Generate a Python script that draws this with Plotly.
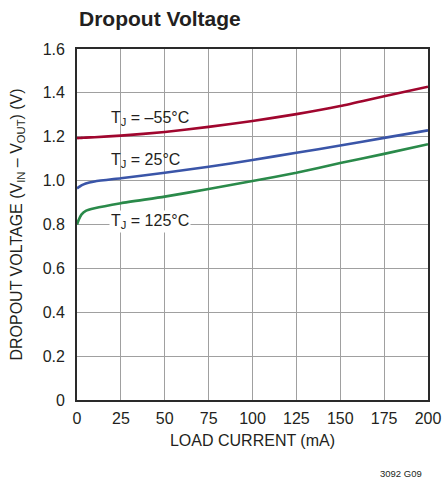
import plotly.graph_objects as go

load_ma = [0, 1, 2.5, 5, 10, 25, 50, 75, 100, 125, 150, 175, 200]
v_m55 = [1.194, 1.194, 1.195, 1.196, 1.198, 1.205, 1.222, 1.245, 1.272, 1.303, 1.340, 1.385, 1.428]
v_25 = [0.965, 0.970, 0.978, 0.987, 0.996, 1.011, 1.036, 1.063, 1.094, 1.127, 1.160, 1.195, 1.229]
v_125 = [0.800, 0.822, 0.845, 0.862, 0.874, 0.897, 0.927, 0.962, 0.998, 1.036, 1.080, 1.122, 1.166]

x_ticks = [0, 25, 50, 75, 100, 125, 150, 175, 200]
y_ticks = [0, 0.2, 0.4, 0.6, 0.8, 1.0, 1.2, 1.4, 1.6]
y_tick_text = ["0", "0.2", "0.4", "0.6", "0.8", "1.0", "1.2", "1.4", "1.6"]

FONT = "Liberation Sans, Arial, sans-serif"
TXT = "#231f20"

L, R, T, B = 77, 18, 49, 83
PW = 446 - L - R
PH = 483 - T - B

fig = go.Figure()
for y, c in [(v_m55, "#a0062e"), (v_25, "#3a55a8"), (v_125, "#2a8a4a")]:
    fig.add_trace(go.Scatter(x=load_ma, y=y, mode="lines",
                             line=dict(color=c, width=2.6, shape="spline", smoothing=0.6),
                             showlegend=False, hoverinfo="skip", cliponaxis=False))

labels = [(18, 1.285, "T<sub>J</sub> = –55°C", "rgba(0,0,0,0)"),
          (18.5, 1.09, "T<sub>J</sub> = 25°C", "rgba(0,0,0,0)"),
          (18.5, 0.812, "T<sub>J</sub> = 125°C", "white")]
for x, y, t, bg in labels:
    fig.add_annotation(x=x, y=y, text=t, showarrow=False, xanchor="left", yanchor="middle",
                       font=dict(family=FONT, size=16, color=TXT), bgcolor=bg, borderpad=1)

fig.add_annotation(xref="paper", yref="paper", x=(424 - L) / PW, y=(400 - 473) / PH,
                   text="3092 G09", showarrow=False, xanchor="right", yanchor="middle",
                   font=dict(family=FONT, size=9.5, color=TXT))

fig.update_layout(
    width=446, height=483,
    margin=dict(l=L, r=R, t=T, b=B, autoexpand=False),
    paper_bgcolor="white", plot_bgcolor="white",
    title=dict(text="<b>Dropout Voltage</b>", x=79 / 446, xanchor="left", xref="container",
               y=1 - 19 / 483, yanchor="middle", yref="container",
               font=dict(family=FONT, size=21, color=TXT)),
    font=dict(family=FONT, size=16, color=TXT),
)
fig.update_xaxes(range=[0, 200], tickvals=x_ticks, ticktext=[str(v) for v in x_ticks],
                 showgrid=True, gridcolor="#a0a0a0", gridwidth=1, automargin=False,
                 showline=True, linecolor="#2a2a2a", linewidth=1.8, mirror=True, ticks="",
                 zeroline=False, tickfont=dict(size=16), ticklabelstandoff=3,
                 title=dict(text="LOAD CURRENT (mA)", font=dict(size=16), standoff=9))
fig.update_yaxes(range=[0, 1.6], tickvals=y_ticks, ticktext=y_tick_text,
                 showgrid=True, gridcolor="#a0a0a0", gridwidth=1, automargin=False,
                 showline=True, linecolor="#2a2a2a", linewidth=1.8, mirror=True, ticks="",
                 zeroline=False, tickfont=dict(size=16), ticklabelstandoff=7,
                 title=dict(text="DROPOUT VOLTAGE (V<sub>IN</sub> – V<sub>OUT</sub>) (V)",
                            font=dict(size=16), standoff=16))

fig.write_html("out.html", config={"displayModeBar": False},
               post_script="document.body.style.margin='0';")
